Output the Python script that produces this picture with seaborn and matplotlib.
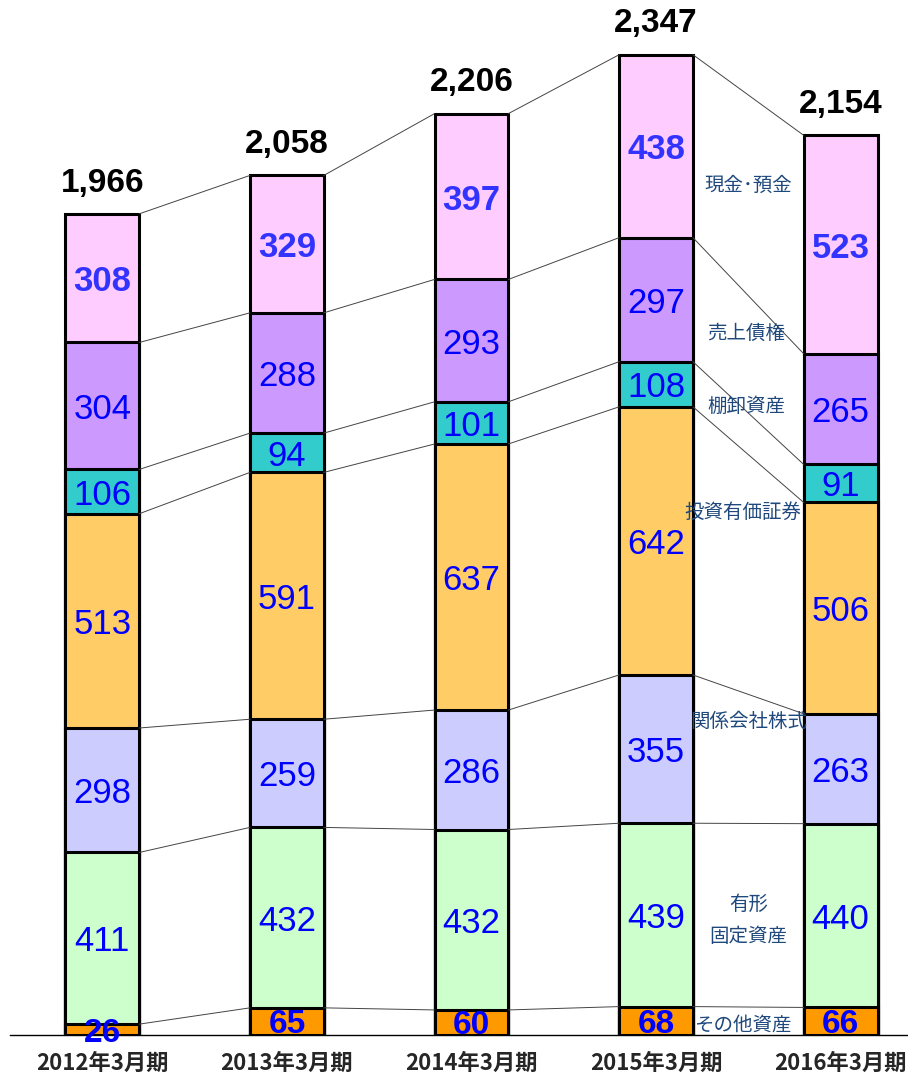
import matplotlib
matplotlib.use("Agg")
import matplotlib.pyplot as plt
import seaborn as sns
import numpy as np
import pandas as pd

categories = ['2012年3月期', '2013年3月期', '2014年3月期', '2015年3月期', '2016年3月期']
other = [26, 65, 60, 68, 66]
tangible = [411, 432, 432, 439, 440]
affiliates = [298, 259, 286, 355, 263]
investments = [513, 591, 637, 642, 506]
inventory = [106, 94, 101, 108, 91]
receivables = [304, 288, 293, 297, 265]
cash = [308, 329, 397, 438, 523]
totals = [1966, 2058, 2206, 2347, 2154]

series_names = ['その他資産', '有形\n固定資産', '関係会社株式', '投資有価証券', '棚卸資産', '売上債権', '現金･預金']
series_values = [other, tangible, affiliates, investments, inventory, receivables, cash]
colors = ['#FF9900', '#CCFFCC', '#CCCCFF', '#FFCC66', '#33CCCC', '#CC99FF', '#FFCCFF']

sns.set_style('white')
num_font = ['Liberation Sans Narrow', 'Liberation Sans', 'DejaVu Sans']
cjk_font = ['Noto Sans CJK JP', 'DejaVu Sans']
tick_font = ['Liberation Sans Narrow', 'Noto Sans CJK JP', 'DejaVu Sans']
plt.rcParams['font.family'] = cjk_font

fig = plt.figure(figsize=(9.08, 10.81), dpi=100)
ax = fig.add_axes([10/908, 46/1081, 898/908, 1035/1081])

vals = np.array(series_values, dtype=float)
cum = np.cumsum(vals, axis=0)
bottoms = cum - vals

# draw cumulative bars from top down so they stack
for i in range(len(series_values) - 1, -1, -1):
    df = pd.DataFrame({'cat': categories, 'v': cum[i]})
    sns.barplot(data=df, x='cat', y='v', color=colors[i], saturation=1,
                width=0.4, edgecolor='black', linewidth=2.2, ax=ax, errorbar=None)

hw = 0.2
# connector lines
for j in range(len(categories) - 1):
    for i in range(len(series_values)):
        ax.plot([j + hw, j + 1 - hw], [cum[i][j], cum[i][j + 1]],
                color='#444444', lw=0.7, zorder=1)

# segment value labels
for i in range(len(series_values)):
    for j in range(len(categories)):
        y = bottoms[i][j] + vals[i][j] / 2
        if i == 0:
            ax.text(j, y, f'{int(vals[i][j])}', ha='center', va='center_baseline',
                    color='#0000FF', fontsize=24, fontweight='bold', family=num_font, zorder=5)
        elif i == 6:
            ax.text(j, y, f'{int(vals[i][j])}', ha='center', va='center_baseline',
                    color='#3333FF', fontsize=25, fontweight='bold', family=num_font, zorder=5)
        else:
            ax.text(j, y, f'{int(vals[i][j])}', ha='center', va='center_baseline',
                    color='#0000FF', fontsize=25, family=num_font, zorder=5)

# totals
for j, t in enumerate(totals):
    ax.annotate(f'{t:,}', (j, t), xytext=(0, 11), textcoords='offset points',
                ha='center', va='bottom', fontsize=24, fontweight='bold',
                family=num_font, color='black')

# series names between the last two bars
label_y = [24, 275, 750, 1252, 1504, 1681, 2033]
label_x = [3.47, 3.5, 3.5, 3.47, 3.49, 3.49, 3.5]
for name, x, y in zip(series_names, label_x, label_y):
    ax.text(x, y, name, ha='center', va='center', fontsize=14,
            color='#1F497D', linespacing=1.7, zorder=6)

ax.set_xlim(-0.5, 4.365)
ax.set_ylim(0, 2478)
ax.set_xlabel('')
ax.set_ylabel('')
ax.set_yticks([])
ax.set_xticks(range(len(categories)))
ax.set_xticklabels(categories, fontsize=16, fontweight='bold', family=tick_font)
ax.tick_params(axis='x', which='major', length=0, pad=12)
ax.set_xticks([-0.5, 0.5, 1.5, 2.5, 3.5], minor=True)
ax.tick_params(axis='x', which='minor', direction='in', length=6, width=1, color='#555555')
for s in ['top', 'right', 'left']:
    ax.spines[s].set_visible(False)
ax.spines['bottom'].set_color('black')
ax.spines['bottom'].set_linewidth(1)

fig.savefig('out.png', dpi=100)
